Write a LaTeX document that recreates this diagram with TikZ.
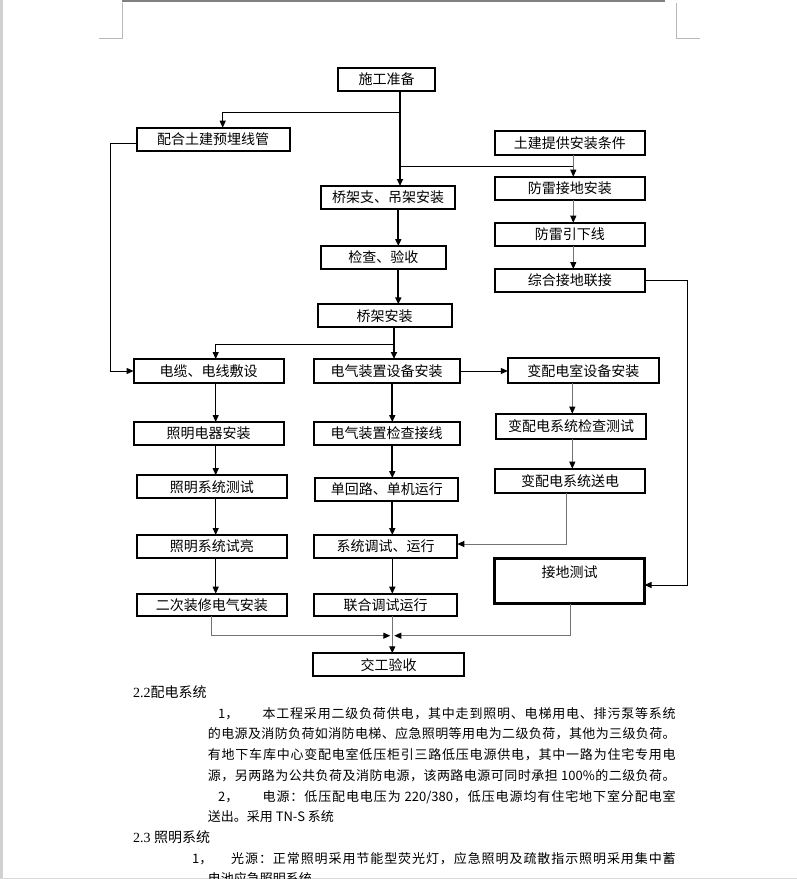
\documentclass[tikz,border=0pt]{standalone}
\usepackage{fontspec}
\setmainfont{Liberation Serif}
\newfontfamily\cjk{Noto Sans CJK SC}
\usetikzlibrary{arrows.meta}
\makeatletter
\def\spr@endtest{\spr@end}
\def\spr@d#1{\def\spr@arg{#1}\ifx\spr@arg\spr@endtest\else\hfil#1\expandafter\spr@d\fi}
\def\spr@first#1{#1\spr@d}
\newcommand\spreadline[2]{\makebox[#1][s]{\spr@first#2\spr@end}}
\makeatother
\begin{document}
\begin{tikzpicture}[x=1pt,y=-1pt,
  boxst/.style={draw=black, line width=2pt, inner sep=0pt, outer sep=0pt, font=\cjk\fontsize{14}{16}\selectfont},
  lnA/.style={line width=1pt, draw=black},
  lnB/.style={line width=2pt, draw=black},
  lnG/.style={line width=1pt, draw=black!55},
  tipd/.style={-{Triangle[length=7pt,width=6pt,black]}},
  txt/.style={anchor=base west, inner sep=0pt, font=\cjk\fontsize{13}{15}\selectfont},
  hd/.style={anchor=base west, inner sep=0pt, font=\fontsize{14}{16}\selectfont},
]
\useasboundingbox (0,0) rectangle (797,879);
\fill[white] (0,0) rectangle (797,879);
% page decorations
\fill[black!18] (0,0) rectangle (2.5,879);
\draw[line width=2pt, black!50] (122,0.8) -- (665,0.8);
\draw[line width=1pt, black!28] (122,3) -- (122,38) -- (99,38);
\draw[line width=1pt, black!28] (676,3) -- (676,38) -- (700,38);
\draw[line width=1pt, black!15] (0,878.5) -- (797,878.5);

% boxes
\node[boxst, minimum width=97pt, minimum height=23pt] (prep) at (386.5,79.5) {施工准备};
\node[boxst, minimum width=153pt, minimum height=23.6pt] (pipe) at (213,139.5) {配合土建预埋线管};
\node[boxst, minimum width=149.5pt, minimum height=23.7pt] (cond) at (569.8,142.8) {土建提供安装条件};
\node[boxst, minimum width=134pt, minimum height=23pt] (tray1) at (388,197.5) {桥架支、吊架安装};
\node[boxst, minimum width=149.5pt, minimum height=23pt] (lp1) at (569.8,188.2) {防雷接地安装};
\node[boxst, minimum width=124.7pt, minimum height=23pt] (chk) at (383.3,257.5) {检查、验收};
\node[boxst, minimum width=149.5pt, minimum height=23pt] (lp2) at (569.8,234.2) {防雷引下线};
\node[boxst, minimum width=149.5pt, minimum height=23pt] (lp3) at (569.8,280.5) {综合接地联接};
\node[boxst, minimum width=134pt, minimum height=23pt] (tray2) at (384.7,315.8) {桥架安装};
\node[boxst, minimum width=150pt, minimum height=24pt] (cab) at (208.6,371) {电缆、电线敷设};
\node[boxst, minimum width=146pt, minimum height=24pt] (dev) at (386.7,371) {电气装置设备安装};
\node[boxst, minimum width=151pt, minimum height=24.7pt] (sub) at (583.3,370.7) {变配电室设备安装};
\node[boxst, minimum width=150pt, minimum height=23pt] (lamp) at (208.6,433.5) {照明电器安装};
\node[boxst, minimum width=146pt, minimum height=23pt] (devchk) at (386.7,433.5) {电气装置检查接线};
\node[boxst, minimum width=150pt, minimum height=25.3pt] (subchk) at (571,426.3) {变配电系统检查测试};
\node[boxst, minimum width=149.7pt, minimum height=23pt] (ltest) at (211.8,486.7) {照明系统测试};
\node[boxst, minimum width=143pt, minimum height=23pt] (single) at (386.8,489.5) {单回路、单机运行};
\node[boxst, minimum width=150pt, minimum height=24.3pt] (subpow) at (570,480.8) {变配电系统送电};
\node[boxst, minimum width=149.7pt, minimum height=23pt] (lbright) at (211.8,546.5) {照明系统试亮};
\node[boxst, minimum width=143.6pt, minimum height=23pt] (sys) at (385.5,546.5) {系统调试、运行};
\node[boxst, line width=3pt, minimum width=149.7pt, text height=18.5pt, text depth=26.5pt, anchor=base] (gtest) at (569.7,577) {接地测试};
\node[boxst, minimum width=149.7pt, minimum height=22.6pt] (dec) at (211.8,605) {二次装修电气安装};
\node[boxst, minimum width=143.6pt, minimum height=22.6pt] (joint) at (385.5,605) {联合调试运行};
\node[boxst, minimum width=150.7pt, minimum height=23pt] (done) at (388.7,664.8) {交工验收};

% helper coordinates
\coordinate (mX) at (400,0);
\coordinate (mX2) at (398.3,0);
\coordinate (mX3) at (394,0);
\coordinate (cX) at (392.3,0);
\coordinate (lX) at (215.7,0);
\coordinate (pX) at (222.7,0);
\coordinate (rX) at (573.3,0);
\coordinate (sX) at (572.3,0);
\coordinate (spX) at (566.7,0);
\coordinate (gX) at (570.7,0);
\coordinate (dX) at (211.7,0);
\coordinate (farL) at (110,0);
\coordinate (farR) at (687,0);
\coordinate (yB1) at (0,112.3);
\coordinate (yB2) at (0,166);
\coordinate (yB3) at (0,344.3);
\coordinate (yP) at (0,143.7);
\coordinate (yS) at (0,544);
\coordinate (yG) at (0,585);
\coordinate (yM) at (0,635.7);

% connectors
\draw[lnB,tipd] (prep.south -| mX) -- (tray1.north -| mX);
\draw[lnA,tipd] (yB1 -| mX) -| (pipe.north -| pX);
\draw[lnA] (yB2 -| mX) -- (yB2 -| rX);
\draw[lnG,tipd] (cond.south -| rX) -- (lp1.north -| rX);
\draw[lnB,tipd] (tray1.south -| mX2) -- (chk.north -| mX2);
\draw[lnB,tipd] (chk.south -| mX2) -- (tray2.north -| mX2);
\draw[lnB,tipd] (tray2.south -| mX3) -- (dev.north -| mX3);
\draw[lnA,tipd] (yB3 -| mX3) -| (cab.north -| lX);
\draw[lnA,tipd] (pipe.west |- yP) -| (farL |- cab.west) -- (cab.west);
\draw[lnA,tipd] (cab.south -| lX) -- (lamp.north -| lX);
\draw[lnA,tipd] (lamp.south -| lX) -- (ltest.north -| lX);
\draw[lnA,tipd] (ltest.south -| lX) -- (lbright.north -| lX);
\draw[lnA,tipd] (lbright.south -| lX) -- (dec.north -| lX);
\draw[lnB,tipd] (dev.south -| cX) -- (devchk.north -| cX);
\draw[lnB,tipd] (devchk.south -| cX) -- (single.north -| cX);
\draw[lnB,tipd] (single.south -| cX) -- (sys.north -| cX);
\draw[line width=1.5pt,tipd] (sys.south -| cX) -- (joint.north -| cX);
\draw[lnA,tipd] (dev.east) -- (sub.west |- dev.east);
\draw[lnG,tipd] (sub.south -| sX) -- (subchk.north -| sX);
\draw[lnG,tipd] (subchk.south -| sX) -- (subpow.north -| sX);
\draw[lnG,tipd] (subpow.south -| spX) |- (sys.east |- yS);
\draw[lnG,tipd] (lp1.south -| rX) -- (lp2.north -| rX);
\draw[lnG,tipd] (lp2.south -| rX) -- (lp3.north -| rX);
\draw[lnA,tipd] (lp3.east) -| (farR |- yG) -- (gtest.east |- yG);
\draw[lnG,tipd,shorten >=2pt] (dec.south -| dX) |- (cX |- yM);
\draw[lnG,tipd,shorten >=2pt] (gtest.south -| gX) |- (cX |- yM);
\draw[lnG,tipd] (joint.south -| cX) -- (done.north -| cX);

% text below
\node[hd] (h22) at (133,697.8) {2.2{\cjk 配电系统}};
\node[txt] (l1a) at (218,718.2) {1，};
\node[txt] (l1b) at (262.4,718.2) {\spreadline{413.1pt}{本工程采用二级负荷供电，其中走到照明、电梯用电、排污泵等系统}};
\node[txt] (l2) at (207.7,738.9) {\spreadline{467.8pt}{的电源及消防负荷如消防电梯、应急照明等用电为二级负荷，其他为三级负荷。}};
\node[txt] (l3) at (207.7,759.6) {\spreadline{467.8pt}{有地下车库中心变配电室低压柜引三路低压电源供电，其中一路为住宅专用电}};
\node[txt] (l4) at (207.7,780.3) {\spreadline{467.8pt}{源，另两路为公共负荷及消防电源，该两路电源可同时承担{\ 100\%}的二级负荷。}};
\node[txt] (l5a) at (218,801) {2，};
\node[txt] (l5b) at (262.4,801) {\spreadline{413.1pt}{电源：低压配电电压为{\ 220/380}，低压电源均有住宅地下室分配电室}};
\node[txt] (l6) at (207.7,821.7) {送出。采用 TN-S 系统};
\node[hd] (h23) at (133,842.7) {2.3 {\cjk 照明系统}};
\node[txt] (l8a) at (192,863.1) {1，};
\node[txt] (l8b) at (231,863.1) {\spreadline{444.5pt}{光源：正常照明采用节能型荧光灯，应急照明及疏散指示照明采用集中蓄}};
\node[txt] (l9) at (207.7,883.8) {电池应急照明系统};
\end{tikzpicture}
\end{document}
